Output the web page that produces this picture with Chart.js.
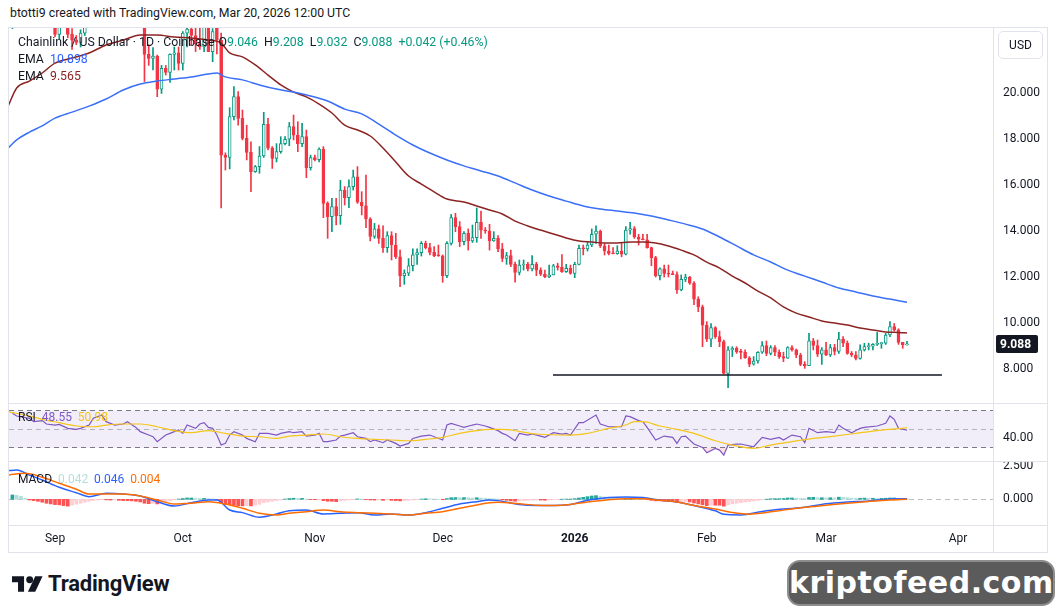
<!DOCTYPE html>
<html>
<head>
<meta charset="utf-8">
<title>Chainlink / US Dollar 1D</title>
<script src="https://cdn.jsdelivr.net/npm/chart.js@4.4.1/dist/chart.umd.min.js"></script>
<style>
  html, body { margin: 0; padding: 0; background: #fff; }
  body { width: 1057px; height: 613px; position: relative; overflow: hidden;
         font-family: Roboto, "Noto Sans", sans-serif; color: #131722; }
  canvas { position: absolute; display: block; }
  .txt { position: absolute; white-space: nowrap; }
  .hline { position: absolute; height: 1px; background: #e0e3eb; }
  .vline { position: absolute; width: 1px; background: #e0e3eb; }
  .up { color: #089981; }
</style>
</head>
<body>
<div class="txt" style="left:10px;top:6px;font-size:12.3px;">btotti9 created with TradingView.com, Mar 20, 2026 12:00 UTC</div>
<div style="position:absolute;left:8px;top:27px;width:1038px;height:524px;border:1px solid #e0e3eb;"></div>

<canvas id="priceChart" width="1038" height="375" style="left:9px;top:28px;"></canvas>
<canvas id="rsiChart" width="1038" height="57" style="left:9px;top:404px;"></canvas>
<canvas id="macdChart" width="1038" height="89" style="left:9px;top:462px;"></canvas>

<div class="hline" style="left:9px;top:403px;width:1038px;"></div>
<div class="hline" style="left:9px;top:461px;width:1038px;"></div>
<div class="hline" style="left:9px;top:525px;width:1038px;"></div>
<div class="vline" style="left:993px;top:28px;height:524px;"></div>

<!-- legends -->
<div class="txt" style="left:18px;top:35px;font-size:12.3px;">Chainlink / US Dollar · 1D · Coinbase<span style="margin-left:4px">O<span class="up">9.046</span>&nbsp; H<span class="up">9.208</span>&nbsp; L<span class="up">9.032</span>&nbsp; C<span class="up">9.088</span>&nbsp; <span class="up">+0.042 (+0.46%)</span></span></div>
<div class="txt" style="left:18px;top:52px;font-size:12.3px;">EMA&nbsp; <span style="color:#2962ff">10.898</span></div>
<div class="txt" style="left:18px;top:69px;font-size:12.3px;">EMA&nbsp; <span style="color:#8c2323">9.565</span></div>
<div class="txt" style="left:18px;top:410px;font-size:12px;">RSI&nbsp; <span style="color:#7e57c2">48.55</span>&nbsp; <span style="color:#f5c518">50.98</span></div>
<div class="txt" style="left:18px;top:472px;font-size:12px;">MACD&nbsp; <span style="color:#b2dfdb">0.042</span>&nbsp; <span style="color:#2962ff">0.046</span>&nbsp; <span style="color:#ff6d00">0.004</span></div>

<div class="txt" style="left:998px;top:31px;width:43px;height:26px;border:1px solid #e0e3eb;border-radius:5px;font-size:12px;line-height:26px;text-align:center;">USD</div>

<!-- footer -->
<div class="txt" style="left:12px;top:571px;">
  <svg width="31" height="18" viewBox="0 0 36 20" style="vertical-align:middle">
    <path d="M14 19H7V8H0V1h14z" fill="#131722"/>
    <circle cx="20.5" cy="5" r="4" fill="#131722"/>
    <path d="M27 19h-8.5L27 1h8.5z" fill="#131722"/>
  </svg>
  <span style="font-size:22px;font-weight:700;vertical-align:middle;letter-spacing:-0.2px;margin-left:1px;">TradingView</span>
</div>
<div class="txt" style="left:787px;top:560px;width:264px;height:42px;background:#5b5b5b;border:2px solid #8d8d8d;border-radius:13px;color:#fff;font-family:'DejaVu Sans',sans-serif;font-weight:700;font-size:30px;line-height:42px;text-align:center;letter-spacing:0.5px;">kriptofeed.com</div>

<script>
// day index: 0 = 1 Sep 2025; daily candles from 22 Aug 2025 (day -10) to 20 Mar 2026 (day 200)
const firstDay = -10;

const opens = [
  23.4, 26.1, 25.6, 24.6, 24.9, 25.8, 24.7, 23.6, 23.4, 23.9,
  23.5, 22.55, 23.1, 23.5, 22.55, 22.3, 22.2, 22.6, 23.4, 23.6,
  23.9, 24.3, 23.9, 24.6, 24.5, 23.7, 23.3, 23.6, 23.3, 23.2,
  23.1, 23.05, 21.68, 21.5, 21.6, 20.17, 21.07, 20.9, 21.68, 21.75,
  21.29, 22.6, 22.78, 22.5, 22.15, 22.0, 22.9, 21.8, 22.9, 22.3,
  17.3, 17.2, 18.97, 19.84, 18.9, 18.03, 17.42, 16.58, 16.8, 17.26,
  18.64, 17.6, 17.16, 17.45, 17.8, 17.99, 18.54, 18.17, 17.8, 18.1,
  16.75, 17.19, 17.1, 17.56, 15.2, 14.62, 15.06, 14.67, 15.78, 15.45,
  15.93, 16.36, 15.25, 15.09, 14.52, 13.76, 14.09, 13.68, 13.28, 13.8,
  13.39, 12.88, 12.06, 12.17, 12.49, 12.96, 13.06, 13.46, 13.28, 13.07,
  12.95, 12.92, 12.06, 13.46, 14.58, 14.19, 13.54, 13.9, 13.57, 13.71,
  14.38, 14.04, 14.0, 13.57, 13.68, 13.22, 12.81, 12.93, 12.55, 12.2,
  12.52, 12.55, 12.35, 12.55, 12.3, 12.12, 12.0, 12.09, 12.49, 12.42,
  12.23, 12.38, 12.16, 12.55, 13.25, 13.22, 13.39, 13.86, 14.0, 13.36,
  13.13, 13.03, 13.01, 13.13, 12.99, 14.04, 14.1, 13.74, 13.65, 13.62,
  13.28, 12.84, 12.06, 12.35, 12.16, 12.12, 12.1, 11.44, 11.9, 12.0,
  11.73, 11.04, 10.7, 9.91, 9.3, 9.8, 9.41, 9.19, 7.81, 8.83,
  8.9, 8.75, 8.72, 8.49, 8.21, 8.35, 8.73, 9.02, 8.68, 8.93,
  8.73, 8.54, 8.47, 8.93, 8.83, 8.61, 8.2, 8.14, 9.22, 9.02,
  8.64, 8.83, 8.61, 8.93, 8.76, 9.3, 9.12, 8.68, 8.61, 8.46,
  8.83, 8.97, 8.99, 9.07, 9.1, 9.12, 9.48, 9.84, 9.7, 9.16,
  9.046
];
const highs = [
  26.5, 27.0, 26.0, 25.5, 26.2, 26.0, 25.0, 24.0, 24.1, 24.2,
  23.7, 23.3, 23.8, 23.7, 22.8, 22.5, 22.75, 23.6, 23.9, 24.2,
  24.6, 24.8, 24.9, 25.2, 24.7, 24.0, 23.9, 24.0, 23.6, 23.5,
  23.4, 23.2, 22.1, 21.97, 21.65, 21.2, 21.2, 21.7, 22.0, 22.0,
  22.67, 22.9, 22.9, 22.9, 22.95, 23.2, 23.4, 22.8, 23.1, 22.6,
  17.4, 19.36, 20.28, 20.06, 19.26, 18.6, 17.88, 16.85, 17.67, 19.16,
  18.9, 17.67, 17.8, 18.1, 18.1, 18.72, 19.04, 18.75, 18.68, 18.39,
  17.3, 17.3, 17.62, 17.67, 15.27, 15.42, 15.42, 16.2, 15.93, 16.22,
  16.65, 16.8, 15.71, 16.43, 14.58, 14.33, 14.26, 14.23, 13.97, 13.97,
  13.9, 13.17, 12.31, 12.8, 13.22, 13.22, 13.54, 13.56, 13.46, 13.32,
  13.39, 12.96, 13.54, 14.72, 14.77, 14.41, 13.97, 14.09, 14.26, 15.0,
  14.87, 14.15, 14.29, 13.97, 13.8, 13.46, 13.07, 13.17, 12.65, 12.74,
  12.74, 12.64, 12.93, 12.64, 12.4, 12.3, 12.52, 12.55, 12.6, 12.98,
  12.55, 12.52, 12.64, 13.39, 13.39, 13.54, 14.09, 14.23, 14.04, 13.46,
  13.39, 13.28, 13.36, 13.46, 14.19, 14.38, 14.19, 13.86, 13.86, 13.86,
  13.3, 12.9, 12.4, 12.52, 12.52, 12.26, 12.23, 12.09, 12.12, 12.03,
  11.8, 11.14, 10.78, 10.06, 9.98, 9.84, 9.65, 9.26, 8.97, 8.97,
  8.97, 8.85, 8.83, 8.54, 8.54, 8.76, 9.19, 9.22, 9.02, 9.02,
  8.83, 8.73, 8.97, 9.02, 8.87, 8.68, 8.32, 9.55, 9.33, 9.26,
  8.93, 9.16, 9.07, 9.07, 9.59, 9.41, 9.22, 8.76, 8.76, 9.05,
  9.12, 9.12, 9.1, 9.59, 9.16, 9.55, 10.06, 9.98, 9.75, 9.16,
  9.208
];
const lows = [
  22.8, 25.2, 24.3, 24.0, 24.5, 24.4, 23.4, 23.0, 22.85, 23.1,
  22.45, 22.35, 22.9, 22.4, 21.9, 22.1, 22.0, 22.5, 22.85, 23.1,
  23.5, 23.6, 23.7, 24.1, 23.4, 23.0, 22.85, 23.1, 23.0, 22.9,
  22.9, 20.5, 21.2, 21.0, 19.84, 19.98, 20.78, 20.46, 21.0, 21.0,
  21.0, 22.0, 22.1, 21.8, 21.9, 21.8, 21.8, 21.36, 21.7, 15.0,
  16.65, 16.7, 18.83, 18.6, 17.96, 17.09, 15.71, 16.55, 16.51, 17.2,
  17.52, 16.72, 17.0, 17.38, 17.74, 17.71, 17.96, 17.45, 17.67, 16.32,
  16.65, 17.05, 17.0, 14.58, 13.68, 13.97, 14.26, 14.29, 15.13, 15.01,
  15.78, 15.2, 14.7, 14.15, 13.57, 13.68, 13.46, 13.07, 13.07, 12.74,
  12.8, 11.58, 11.68, 12.06, 12.26, 12.55, 12.91, 13.22, 12.96, 12.88,
  12.9, 11.77, 11.97, 13.39, 13.97, 13.32, 13.39, 13.17, 13.5, 13.51,
  13.68, 13.9, 13.17, 13.55, 13.1, 12.67, 12.55, 12.45, 11.77, 12.09,
  12.3, 12.26, 12.26, 12.06, 12.06, 11.97, 11.97, 12.09, 12.3, 12.2,
  12.2, 12.12, 11.97, 12.52, 12.96, 13.13, 13.32, 13.46, 13.28, 12.96,
  12.96, 13.0, 12.99, 12.88, 12.96, 13.86, 13.68, 13.39, 13.61, 13.25,
  12.49, 12.0, 11.87, 12.0, 12.0, 12.1, 11.29, 11.4, 11.8, 11.68,
  10.8, 10.49, 8.97, 9.19, 8.97, 9.33, 8.97, 7.8, 7.19, 8.54,
  8.68, 8.44, 8.46, 8.1, 8.17, 8.25, 8.68, 8.58, 8.61, 8.58,
  8.46, 8.32, 8.46, 8.78, 8.49, 8.14, 8.03, 8.14, 8.83, 8.54,
  8.2, 8.58, 8.54, 8.61, 8.68, 8.97, 8.64, 8.54, 8.39, 8.43,
  8.78, 8.83, 8.83, 9.02, 8.9, 9.07, 9.41, 9.65, 9.07, 8.9,
  9.032
];
const closes = [
  26.1, 25.6, 24.6, 24.9, 25.8, 24.7, 23.6, 23.4, 23.9, 23.5,
  22.55, 23.1, 23.5, 22.55, 22.3, 22.2, 22.6, 23.4, 23.6, 23.9,
  24.3, 23.9, 24.6, 24.5, 23.7, 23.3, 23.6, 23.3, 23.2, 23.1,
  23.05, 21.68, 21.5, 21.6, 20.17, 21.07, 20.9, 21.68, 21.75, 21.29,
  22.6, 22.78, 22.5, 22.15, 22.0, 22.9, 21.8, 22.67, 22.3, 17.3,
  17.2, 18.97, 19.84, 18.9, 18.03, 17.42, 16.58, 16.8, 17.26, 18.64,
  17.6, 17.16, 17.45, 17.8, 17.99, 18.54, 18.17, 17.8, 18.1, 16.75,
  17.19, 17.1, 17.56, 15.2, 14.62, 15.06, 14.67, 15.78, 15.45, 15.93,
  16.36, 15.25, 15.09, 14.52, 13.76, 14.09, 13.68, 13.28, 13.8, 13.39,
  12.88, 12.06, 12.17, 12.49, 12.96, 13.06, 13.46, 13.28, 13.07, 12.93,
  12.92, 12.06, 13.46, 14.58, 14.19, 13.54, 13.9, 13.57, 13.71, 14.38,
  14.04, 14.0, 13.57, 13.68, 13.22, 12.81, 12.93, 12.55, 12.2, 12.52,
  12.55, 12.35, 12.55, 12.3, 12.12, 12.0, 12.09, 12.49, 12.42, 12.23,
  12.38, 12.16, 12.55, 13.25, 13.22, 13.39, 13.86, 14.0, 13.36, 13.13,
  13.03, 13.01, 13.13, 12.99, 14.04, 14.1, 13.74, 13.65, 13.62, 13.28,
  12.84, 12.06, 12.35, 12.16, 12.12, 12.1, 11.44, 11.9, 12.0, 11.73,
  11.04, 10.7, 9.91, 9.3, 9.8, 9.41, 9.19, 7.81, 8.83, 8.9,
  8.75, 8.72, 8.49, 8.21, 8.35, 8.73, 9.02, 8.68, 8.93, 8.73,
  8.54, 8.47, 8.93, 8.83, 8.61, 8.2, 8.14, 9.22, 9.02, 8.64,
  8.83, 8.61, 8.93, 8.76, 9.3, 9.12, 8.68, 8.61, 8.46, 8.83,
  8.97, 8.99, 9.07, 9.1, 9.12, 9.48, 9.84, 9.7, 9.16, 9.05,
  9.088
];

// EMA lines (day, value)
const emaRedDays = [-11, -9, -6, -3, 0, 4, 8, 12, 16, 20, 24, 28, 32, 36, 39, 41, 44, 47, 50, 53, 56, 59, 62, 65, 68, 71, 74, 77, 80, 83, 86, 89, 92, 96, 99, 102, 105, 108, 111, 114, 117, 120, 123, 126, 129, 132, 135, 138, 141, 144, 147, 150, 153, 156, 159, 162, 165, 168, 171, 174, 177, 180, 183, 186, 189, 192, 195, 198, 200];
const emaRedValues = [19.43, 20.22, 20.52, 20.87, 21.3, 21.52, 21.74, 22.09, 22.3, 22.52, 22.52, 22.43, 22.39, 22.3, 22.17, 21.74, 21.57, 21.22, 20.78, 20.35, 20.04, 19.83, 19.52, 19.13, 18.6, 18.39, 18.13, 17.61, 17.0, 16.39, 16.04, 15.7, 15.39, 15.26, 15.09, 14.91, 14.74, 14.43, 14.22, 14.04, 13.87, 13.7, 13.57, 13.52, 13.48, 13.48, 13.52, 13.52, 13.48, 13.35, 13.17, 12.96, 12.65, 12.39, 12.04, 11.74, 11.39, 11.09, 10.7, 10.43, 10.26, 10.09, 10.0, 9.91, 9.78, 9.7, 9.61, 9.59, 9.565];
const emaBlueDays = [-11, -9, -6, -3, 0, 4, 8, 12, 16, 20, 24, 28, 32, 36, 38, 40, 44, 48, 52, 56, 60, 64, 68, 72, 76, 80, 84, 88, 92, 96, 100, 104, 108, 112, 116, 120, 124, 128, 132, 136, 140, 144, 148, 152, 156, 160, 164, 168, 172, 176, 180, 184, 188, 192, 196, 200];
const emaBlueValues = [17.61, 17.96, 18.3, 18.57, 18.91, 19.17, 19.43, 19.74, 20.13, 20.39, 20.52, 20.61, 20.7, 20.83, 20.87, 20.7, 20.57, 20.35, 20.17, 20.04, 19.87, 19.65, 19.3, 19.09, 18.65, 18.17, 17.74, 17.39, 17.09, 16.83, 16.61, 16.39, 16.09, 15.78, 15.52, 15.3, 15.09, 14.96, 14.87, 14.78, 14.65, 14.48, 14.3, 14.09, 13.74, 13.35, 12.96, 12.65, 12.3, 12.04, 11.78, 11.52, 11.35, 11.17, 11.04, 10.898];

// horizontal support line drawn on the chart
const supportDays = [116.9, 208.2];
const supportLevel = 7.74;

// RSI and its moving average (day, value)
const rsiDays = [-10, -9, -6, -5, -3, -2, 0, 1, 3, 5, 6, 8, 9, 11, 12, 14, 16, 17, 19, 20, 22, 23, 24, 26, 27, 29, 30, 31, 33, 34, 35, 36, 37, 38, 39, 40, 41, 42, 44, 45, 47, 48, 50, 52, 53, 55, 56, 58, 59, 61, 62, 63, 64, 66, 67, 68, 70, 71, 73, 74, 75, 77, 78, 80, 81, 83, 84, 86, 88, 89, 91, 92, 93, 95, 96, 98, 99, 101, 102, 104, 105, 106, 108, 109, 111, 112, 114, 115, 117, 119, 120, 121, 123, 124, 127, 128, 130, 133, 134, 135, 137, 138, 139, 141, 143, 145, 146, 147, 148, 150, 152, 153, 155, 156, 157, 158, 160, 161, 164, 166, 168, 170, 171, 173, 175, 176, 177, 179, 181, 183, 184, 185, 187, 189, 190, 193, 195, 196, 197, 198, 200];
const rsiValues = [66.4, 63.6, 61.1, 57.5, 58.6, 55, 53.9, 54.6, 50.4, 49.3, 50.4, 53.9, 61.1, 64.6, 57.5, 53.9, 55, 57.5, 51.4, 46.8, 43.2, 41.4, 36.1, 43.2, 45, 48.6, 45, 53.9, 50.4, 55, 56.4, 51.4, 50.4, 43.2, 32.5, 34.3, 43.2, 46.8, 43.2, 39.6, 36.1, 45, 45, 43.2, 45, 46.8, 45.7, 46.8, 42.1, 43.2, 45, 36.1, 36.1, 37.9, 42.1, 43.2, 45.7, 41.4, 39.6, 36.1, 37.9, 35, 37.9, 34.3, 31.4, 34.3, 39.6, 42.1, 43.2, 41.4, 37.9, 53.9, 55.7, 52.9, 51.4, 53.9, 55, 52.9, 51.4, 47.9, 45, 43.2, 37.1, 45, 43.2, 44.3, 42.1, 40.7, 45.7, 44.3, 45, 43.2, 56.4, 56.4, 64.6, 55, 52.1, 52.1, 63.6, 62.9, 58.6, 57.5, 51.4, 37.9, 42.1, 40.7, 34.3, 41.4, 42.1, 33.6, 30, 24.3, 28.9, 27.1, 21.8, 32.5, 33.6, 33.6, 30.7, 40.7, 38.6, 40.7, 37.9, 43.2, 41.4, 35, 50.4, 45.7, 46.8, 45.7, 53.9, 50.4, 45.7, 50.4, 51.4, 52.9, 55.7, 63.6, 60, 50.4, 48.55];
const rsiMaDays = [-11, -7, -3, 1, 5, 9, 12, 16, 20, 24, 28, 32, 36, 40, 44, 48, 52, 55, 59, 63, 67, 71, 75, 79, 83, 87, 91, 95, 99, 102, 105, 113, 121, 125, 130, 134, 136, 138, 142, 146, 150, 155, 159, 164, 168, 173, 178, 183, 188, 193, 196, 200];
const rsiMaValues = [68.2, 64.6, 60, 56.4, 52.9, 52.1, 53.9, 55, 55, 52.1, 47.9, 45.7, 47.9, 45, 42.1, 41.4, 39.6, 42.1, 43.2, 44.3, 41.4, 39.6, 38.6, 37.9, 37.1, 38.6, 40.7, 45, 47.9, 49.3, 49.3, 44.3, 43.2, 45, 50.4, 53.9, 57.5, 57.5, 52.9, 49.3, 45, 37.1, 32.5, 28.9, 32.5, 36.1, 39.6, 42.1, 45, 47.9, 49.3, 50.98];

// MACD (12, 26, 9): macd line, signal line (day, value) and daily histogram
const macdDays = [-11, -9, -6, -3, 1, 5, 8, 12, 16, 20, 24, 28, 32, 36, 38, 41, 44, 48, 52, 55, 59, 63, 67, 71, 75, 79, 83, 87, 91, 95, 99, 102, 104, 109, 113, 117, 121, 125, 130, 134, 138, 142, 146, 150, 155, 157, 161, 166, 171, 176, 181, 186, 191, 196, 200];
const macdValues = [2.17, 2.22, 1.84, 1.46, 0.91, 0.5, 0.2, 0.45, 0.4, 0.25, -0.18, -0.51, -0.26, -0.05, -0.05, -0.81, -1.01, -1.36, -1.11, -0.86, -0.81, -1.11, -1.06, -1.01, -1.19, -1.11, -1.19, -1.01, -0.68, -0.36, -0.18, -0.05, -0.1, -0.39, -0.47, -0.47, -0.39, -0.08, 0.13, 0.18, 0.13, -0.08, -0.21, -0.47, -0.87, -1.13, -1.18, -0.92, -0.74, -0.61, -0.34, -0.21, -0.13, 0.03, 0.046];
const signalDays = [-11, -7, -3, 1, 5, 8, 12, 16, 20, 24, 28, 32, 36, 40, 44, 48, 52, 55, 59, 63, 67, 71, 75, 79, 83, 87, 91, 95, 99, 102, 104, 109, 113, 117, 121, 125, 130, 134, 138, 142, 146, 150, 155, 159, 163, 167, 171, 176, 181, 186, 191, 196, 200];
const signalValues = [1.84, 1.97, 1.67, 1.21, 0.76, 0.4, 0.4, 0.4, 0.25, -0.05, -0.36, -0.3, -0.18, -0.36, -0.68, -1.06, -1.19, -1.06, -0.94, -0.81, -0.94, -1.01, -1.06, -1.11, -1.19, -1.06, -0.94, -0.68, -0.43, -0.26, -0.22, -0.34, -0.45, -0.47, -0.39, -0.21, -0.03, 0.05, 0.05, -0.08, -0.21, -0.47, -0.74, -1.0, -1.13, -1.0, -0.82, -0.61, -0.45, -0.29, -0.16, -0.05, 0.004];
const histValues = [
  0.33, 0.3, 0.22, 0.08, -0.05, -0.1, -0.15, -0.22, -0.3, -0.35,
  -0.4, -0.42, -0.48, -0.52, -0.45, -0.38, -0.3, -0.22, -0.15, -0.1,
  -0.06, -0.03, -0.04, -0.06, -0.05, -0.08, -0.1, -0.1, -0.12, -0.15,
  -0.2, -0.3, -0.33, -0.3, -0.35, -0.25, -0.2, -0.12, -0.05, 0.02,
  0.06, 0.1, 0.1, 0.08, 0.06, 0.07, 0.05, 0.03, -0.02, -0.25,
  -0.4, -0.42, -0.45, -0.5, -0.5, -0.48, -0.5, -0.45, -0.38, -0.25,
  -0.2, -0.15, -0.1, -0.05, 0.02, 0.06, 0.08, 0.06, 0.07, 0.02,
  -0.02, -0.03, -0.02, -0.1, -0.15, -0.15, -0.18, -0.12, -0.08, -0.05,
  -0.02, 0.03, 0.02, -0.02, -0.05, -0.06, -0.05, -0.08, -0.06, -0.08,
  -0.1, -0.12, -0.1, -0.08, -0.05, -0.03, 0.02, 0.04, 0.03, 0.02,
  0.01, -0.03, 0.06, 0.12, 0.13, 0.12, 0.13, 0.12, 0.1, 0.12,
  0.1, 0.08, 0.05, 0.04, 0.02, -0.05, -0.08, -0.12, -0.15, -0.12,
  -0.1, -0.08, -0.07, -0.06, -0.06, -0.07, -0.05, -0.03, -0.02, 0.01,
  0.02, 0.02, 0.05, 0.1, 0.15, 0.2, 0.25, 0.28, 0.22, 0.18,
  0.12, 0.08, 0.06, 0.04, 0.08, 0.1, 0.08, 0.05, 0.02, -0.02,
  -0.08, -0.12, -0.12, -0.14, -0.16, -0.18, -0.22, -0.2, -0.18, -0.2,
  -0.28, -0.35, -0.42, -0.48, -0.45, -0.45, -0.45, -0.52, -0.42, -0.35,
  -0.3, -0.25, -0.2, -0.18, -0.12, -0.08, -0.03, 0.01, 0.04, 0.05,
  0.05, 0.06, 0.1, 0.1, 0.09, 0.07, 0.06, 0.14, 0.15, 0.12,
  0.12, 0.1, 0.12, 0.1, 0.16, 0.15, 0.12, 0.09, 0.07, 0.08,
  0.09, 0.08, 0.08, 0.07, 0.07, 0.08, 0.1, 0.1, 0.07, 0.05,
  0.042
];

// time axis: first day of each month
const monthTicks = [0, 30, 61, 91, 122, 153, 181, 212];
const monthLabels = ['Sep', 'Oct', 'Nov', 'Dec', '2026', 'Feb', 'Mar', 'Apr'];
const priceTicks = [8, 10, 12, 14, 16, 18, 20];

const UP = '#089981', DOWN = '#f23645';
const DAY_MIN = -10.8, DAY_MAX = 220.19;

Chart.defaults.font.family = 'Roboto, "Noto Sans", sans-serif';
Chart.defaults.font.size = 12;
Chart.defaults.color = '#131722';

const days = opens.map((_, i) => firstDay + i);
const isUp = days.map((_, i) => closes[i] >= opens[i]);
const pts = (xs, ys) => xs.map((x, i) => ({ x: x, y: ys[i] }));

function timeAxis(show) {
  return {
    type: 'linear', min: DAY_MIN, max: DAY_MAX, offset: false,
    display: show,
    grid: { display: false, drawTicks: false },
    border: { display: false },
    afterBuildTicks: s => { s.ticks = monthTicks.map(v => ({ value: v })); },
    afterFit: s => { s.height = show ? 26 : 0; s.paddingLeft = 0; s.paddingRight = 0; },
    ticks: {
      autoSkip: false, maxRotation: 0, padding: 7, color: '#131722',
      callback: v => monthLabels[monthTicks.indexOf(v)],
      font: ctx => ({ size: 12, weight: ctx.tick && ctx.tick.value === 122 ? 'bold' : 'normal' })
    }
  };
}
function valueAxis(min, max, tickValues, digits) {
  return {
    position: 'right', min: min, max: max,
    grid: { display: false, drawTicks: false },
    border: { display: false },
    afterBuildTicks: s => { s.ticks = tickValues.map(v => ({ value: v })); },
    afterFit: s => { s.width = 54; s.paddingTop = 0; s.paddingBottom = 0; },
    ticks: { padding: 10, color: '#131722', callback: v => v.toFixed(digits) }
  };
}
const baseOptions = {
  responsive: false, animation: false, events: [],
  layout: { padding: 0, autoPadding: false },
  plugins: { legend: { display: false }, tooltip: { enabled: false } }
};

// last price tag on the price axis
const lastPriceTag = {
  id: 'lastPriceTag',
  afterDraw(chart) {
    const { ctx, chartArea, scales } = chart;
    const price = closes[closes.length - 1];
    const y = Math.round(scales.y.getPixelForValue(price));
    ctx.save();
    ctx.fillStyle = '#131722';
    ctx.beginPath();
    ctx.roundRect(chartArea.right + 3, y - 9, 42, 18, 2);
    ctx.fill();
    ctx.fillStyle = '#fff';
    ctx.font = 'bold 12px Roboto, sans-serif';
    ctx.textBaseline = 'middle';
    ctx.fillText(price.toFixed(3), chartArea.right + 7, y + 0.5);
    ctx.restore();
  }
};

new Chart(document.getElementById('priceChart'), {
  type: 'bar',
  data: {
    datasets: [
      { type: 'line', data: pts(emaBlueDays, emaBlueValues), borderColor: '#3a6ff8', borderWidth: 1.5,
        pointRadius: 0, cubicInterpolationMode: 'monotone', order: 0 },
      { type: 'line', data: pts(emaRedDays, emaRedValues), borderColor: '#8c2323', borderWidth: 1.5,
        pointRadius: 0, cubicInterpolationMode: 'monotone', order: 0 },
      { type: 'line', data: supportDays.map(d => ({ x: d, y: supportLevel })), borderColor: '#131722',
        borderWidth: 1.5, pointRadius: 0, order: 0 },
      { data: days.map((d, i) => ({ x: d, y: [lows[i], highs[i]] })),
        backgroundColor: isUp.map(u => u ? UP : DOWN), barThickness: 1, grouped: false, order: 3 },
      { data: days.map((d, i) => ({ x: d, y: [opens[i], closes[i]] })),
        backgroundColor: isUp.map(u => u ? '#ffffff' : DOWN), borderColor: isUp.map(u => u ? UP : DOWN),
        borderWidth: 1, borderSkipped: false, barThickness: 3, minBarLength: 1, grouped: false, order: 2 }
    ]
  },
  options: Object.assign({}, baseOptions, {
    scales: { x: timeAxis(false), y: valueAxis(6.522, 22.826, priceTicks, 3) }
  }),
  plugins: [lastPriceTag]
});

// RSI band, guide lines
const rsiBands = {
  id: 'rsiBands',
  beforeDatasetsDraw(chart) {
    const { ctx, chartArea: a, scales: { y } } = chart;
    const y70 = Math.round(y.getPixelForValue(70)) + 0.5;
    const y50 = Math.round(y.getPixelForValue(50)) + 0.5;
    const y30 = Math.round(y.getPixelForValue(30)) + 0.5;
    ctx.save();
    ctx.fillStyle = 'rgba(126, 87, 194, 0.1)';
    ctx.fillRect(a.left, y70, a.right - a.left, y30 - y70);
    ctx.lineWidth = 1;
    ctx.setLineDash([5, 4]);
    ctx.strokeStyle = '#787b86';
    [y70, y30].forEach(yy => { ctx.beginPath(); ctx.moveTo(a.left, yy); ctx.lineTo(a.right, yy); ctx.stroke(); });
    ctx.strokeStyle = 'rgba(120, 123, 134, 0.5)';
    ctx.beginPath(); ctx.moveTo(a.left, y50); ctx.lineTo(a.right, y50); ctx.stroke();
    ctx.restore();
  }
};

new Chart(document.getElementById('rsiChart'), {
  type: 'line',
  data: {
    datasets: [
      { data: pts(rsiMaDays, rsiMaValues), borderColor: '#f5c518', borderWidth: 1.2, pointRadius: 0,
        cubicInterpolationMode: 'monotone' },
      { data: pts(rsiDays, rsiValues), borderColor: '#7e57c2', borderWidth: 1.2, pointRadius: 0,
        fill: { target: { value: 30 }, above: 'rgba(0,0,0,0)', below: 'rgba(242, 54, 69, 0.15)' } }
    ]
  },
  options: Object.assign({}, baseOptions, {
    scales: { x: timeAxis(false), y: valueAxis(15.45, 76.4, [40], 2) }
  }),
  plugins: [rsiBands]
});

const zeroLine = {
  id: 'zeroLine',
  beforeDatasetsDraw(chart) {
    const { ctx, chartArea: a, scales: { y } } = chart;
    const y0 = Math.round(y.getPixelForValue(0)) + 0.5;
    ctx.save();
    ctx.setLineDash([5, 4]);
    ctx.strokeStyle = 'rgba(120, 123, 134, 0.5)';
    ctx.lineWidth = 1;
    ctx.beginPath(); ctx.moveTo(a.left, y0); ctx.lineTo(a.right, y0); ctx.stroke();
    ctx.restore();
  }
};

const histColors = histValues.map((v, i) => {
  const prev = i > 0 ? histValues[i - 1] : v;
  if (v >= 0) return v >= prev ? '#26a69a' : '#b2dfdb';
  return v <= prev ? '#ff5252' : '#ffcdd2';
});

new Chart(document.getElementById('macdChart'), {
  type: 'bar',
  data: {
    datasets: [
      { type: 'line', data: pts(signalDays, signalValues), borderColor: '#ff6d00', borderWidth: 1.5,
        pointRadius: 0, cubicInterpolationMode: 'monotone', order: 0 },
      { type: 'line', data: pts(macdDays, macdValues), borderColor: '#2962ff', borderWidth: 1.5,
        pointRadius: 0, cubicInterpolationMode: 'monotone', order: 1 },
      { data: days.map((d, i) => ({ x: d, y: histValues[i] })), backgroundColor: histColors,
        barThickness: 3, grouped: false, order: 2 }
    ]
  },
  options: Object.assign({}, baseOptions, {
    scales: { x: timeAxis(true), y: valueAxis(-1.947, 2.826, [0, 2.5], 3) }
  }),
  plugins: [zeroLine]
});
</script>
</body>
</html>
